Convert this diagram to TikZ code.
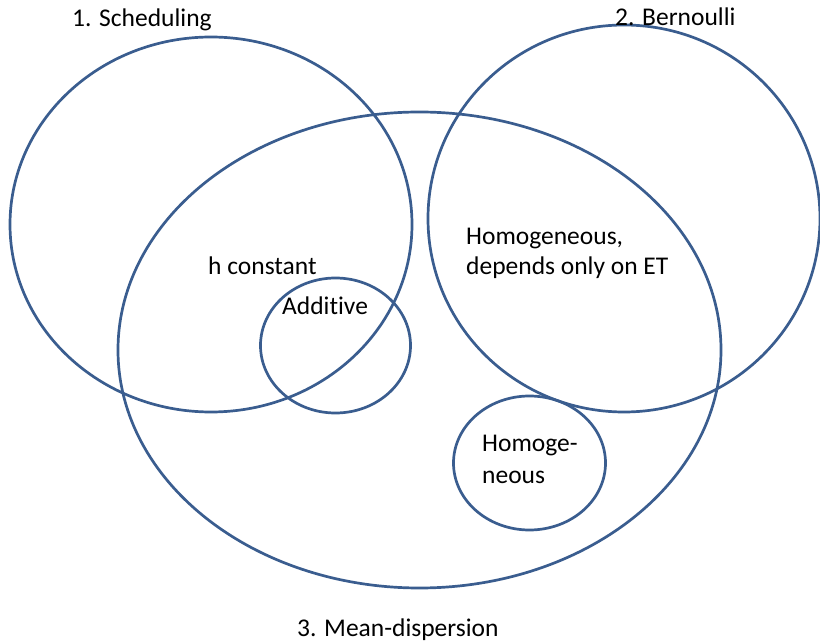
\documentclass[tikz,border=0pt]{standalone}
\usepackage{fontspec}
\setmainfont[Ligatures={NoCommon}]{Carlito}
\begin{document}
\begin{tikzpicture}[x=1pt,y=-1pt,
  ring/.style={draw=ringblue,line width=2.7pt},
  lbl/.style={anchor=base west,inner sep=0pt,font=\fontsize{25.5}{30}\selectfont,text=black}]
\definecolor{ringblue}{HTML}{3A5D8F}
\useasboundingbox (0,0) rectangle (820,644);
\draw[ring] (211,224.5) ellipse [x radius=201, y radius=187.5];
\draw[ring] (624,218.5) ellipse [x radius=196, y radius=193.5];
\draw[ring] (419.5,350) ellipse [x radius=301.5, y radius=238];
\draw[ring] (335.5,345.5) ellipse [x radius=75, y radius=67.5];
\draw[ring] (529.5,463) ellipse [x radius=76, y radius=67];
\node[lbl] (t1) at (72,27) {1. Scheduling};
\node[lbl] (t2) at (615,26) {2. Bernoulli};
\node[lbl] (t3) at (297,636) {3. Mean-dispersion};
\node[lbl] (th) at (208,275) {h constant};
\node[lbl] (ta) at (282,315) {Additive};
\node[lbl] (tg1) at (466,245) {Homogeneous,};
\node[lbl] (tg2) at (466,275) {depends only on ET};
\node[lbl] (tm1) at (482,452) {Homoge-};
\node[lbl] (tm2) at (482,483) {neous};
\end{tikzpicture}
\end{document}
